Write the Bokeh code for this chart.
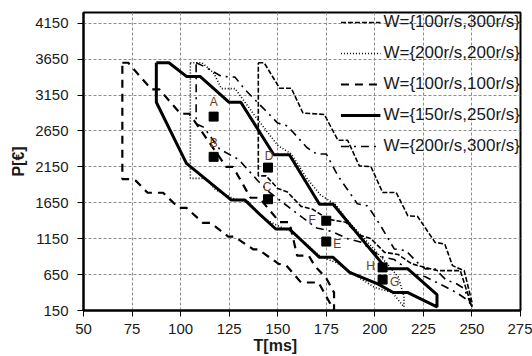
from bokeh.plotting import figure
from bokeh.models import Range1d, Label, FixedTicker
from bokeh.embed import file_html
from bokeh.resources import INLINE

# ---------------- data ----------------
x_ticks = [50, 75, 100, 125, 150, 175, 200, 225, 250, 275]
y_ticks = [150, 650, 1150, 1650, 2150, 2650, 3150, 3650, 4150]

# W={100r/s,300r/s}  (short dashes)
w1_T = [140, 143, 151, 157, 163, 174, 181, 186, 192, 198, 204, 211, 217, 222, 231, 236, 240, 246, 250, 250,
        244, 232, 219, 212, 205, 198, 192, 185, 176, 168, 162, 155, 150, 144, 140, 140]
w1_P = [3600, 3600, 3245, 3245, 2900, 2880, 2520, 2520, 2164, 2154, 1793, 1793, 1469, 1460, 1099, 1076, 775, 706, 265, 200,
        706, 706, 800, 930, 960, 1150, 1200, 1380, 1420, 1560, 1600, 1800, 1850, 2025, 2025, 3600]

# W={200r/s,200r/s}  (dotted)
w2_T = [105, 111, 117, 121, 128, 138, 150, 157, 165, 172, 180, 186, 197, 207, 212, 215, 215,
        209, 200, 190, 180, 172, 158, 150, 143, 135, 127, 118, 113, 105, 105]
w2_P = [3600, 3600, 3460, 3240, 3240, 2870, 2450, 2330, 1990, 1760, 1620, 1400, 1080, 780, 620, 350, 200,
        400, 470, 640, 820, 900, 1240, 1330, 1430, 1660, 1710, 1830, 1990, 1990, 3600]

# W={100r/s,100r/s}  (long dashes)
w3_T = [70, 73, 85, 89, 100, 104.5, 123.5, 127, 136, 140.5, 151, 156, 160, 166, 169, 175, 179, 179,
        171, 162, 154.5, 150.5, 140, 137.5, 127.5, 124.5, 115.5, 111.5, 103, 99, 91, 83, 77, 73.5, 70, 70]
w3_P = [3600, 3600, 3230, 3230, 2890, 2890, 2150, 2150, 1720, 1720, 1380, 1380, 914, 914, 775, 600, 400, 150,
        540, 540, 775, 800, 1000, 1000, 1180, 1180, 1370, 1370, 1580, 1580, 1790, 1790, 1955, 1980, 1980, 3600]

# W={150r/s,250r/s}  (solid)
w4_T = [87.5, 94, 103, 110, 125, 131, 148, 156, 171.5, 178.5, 206, 217, 232, 232,
        217, 209.5, 201.5, 187, 178.5, 171.5, 156, 149, 141.5, 133, 126, 103, 87.5, 87.5]
w4_P = [3600, 3600, 3410, 3410, 3050, 3050, 2320, 2320, 1630, 1630, 730, 730, 370, 200,
        400, 400, 520, 680, 890, 890, 1285, 1285, 1470, 1690, 1690, 2200, 3050, 3600]

# W={200r/s,300r/s}  (dash-dot)
w5_T = [108, 112, 121, 128, 133, 141, 150, 155, 165, 170, 175, 181, 187, 191, 196, 198, 203, 208, 210, 216, 222, 226, 231, 237, 241, 246, 250,
        248, 242, 237, 226, 220, 210, 203, 193, 186, 178, 170, 160, 146, 140, 130, 120, 112, 108, 108]
w5_P = [3600, 3550, 3410, 3400, 3230, 3010, 2760, 2720, 2420, 2330, 2330, 2025, 1793, 1636, 1608, 1539, 1330, 1099, 1007, 983, 817, 729, 729, 567, 539, 456, 200,
        290, 400, 470, 620, 660, 860, 900, 1100, 1150, 1250, 1300, 1500, 1790, 1950, 2250, 2400, 2700, 2750, 3600]

series_names = ["W={100r/s,300r/s}", "W={200r/s,200r/s}", "W={100r/s,100r/s}",
                "W={150r/s,250r/s}", "W={200r/s,300r/s}"]

# operating points
pt_names = ["A", "B", "C", "D", "E", "F", "G", "H"]
pt_T = [117, 117, 145, 145, 175, 175, 204, 204]
pt_P = [2850, 2290, 1700, 2140, 1110, 1400, 580, 750]

x_title = "T[ms]"
y_title = "P[€]"

# ---------------- figure ----------------
p = figure(width=532, height=356, x_range=Range1d(50, 275), y_range=Range1d(150, 4300),
           output_backend="svg", toolbar_location=None,
           min_border_left=83, min_border_right=12, min_border_top=12, min_border_bottom=46)
p.background_fill_color = "white"
p.border_fill_color = "white"
p.outline_line_color = "black"
p.outline_line_width = 2

p.xaxis.ticker = FixedTicker(ticks=x_ticks)
p.yaxis.ticker = FixedTicker(ticks=y_ticks)
for ax in (p.xaxis, p.yaxis):
    ax.axis_line_color = "black"
    ax.axis_line_width = 2
    ax.major_tick_line_color = "black"
    ax.major_tick_line_width = 1
    ax.major_tick_out = 6
    ax.major_tick_in = 0
    ax.minor_tick_line_color = None
    ax.major_label_text_font = "Liberation Sans"
    ax.major_label_text_font_size = "15px"
    ax.major_label_text_color = "#1a1a1a"
    ax.axis_label_text_font = "Liberation Sans"
    ax.axis_label_text_font_size = "16px"
    ax.axis_label_text_font_style = "bold"
    ax.axis_label_text_color = "#1a1a1a"
p.xaxis.major_label_standoff = 7
p.yaxis.major_label_standoff = 9

p.yaxis.axis_label = y_title
p.yaxis.axis_label_standoff = 5
# trailing no-break spaces shift the centred x title to the left, as in the original
p.xaxis.axis_label = x_title + "\u00a0" * 12
p.xaxis.axis_label_standoff = 0

p.xgrid.grid_line_color = "#8c8c8c"
p.ygrid.grid_line_color = "#8c8c8c"
p.xgrid.grid_line_dash = "3 2"
p.ygrid.grid_line_dash = "3 2"
p.xgrid.grid_line_width = 1
p.ygrid.grid_line_width = 1

styles = [
    dict(line_dash="5 2", line_width=1.6),
    dict(line_dash="1 2", line_width=1.6),
    dict(line_dash="8 6", line_width=2.2),
    dict(line_dash="solid", line_width=3),
    dict(line_dash="8 5 2 5", line_width=1.6),
]
data = [(w1_T, w1_P), (w2_T, w2_P), (w3_T, w3_P), (w4_T, w4_P), (w5_T, w5_P)]
for (t, pv), name, st in zip(data, series_names, styles):
    p.line(t, pv, line_color="black", legend_label=name, **st)

p.scatter(pt_T, pt_P, marker="square", size=9, color="black")
offsets = {"A": (0, 15), "B": (0, 14), "C": (-1, 12), "D": (1, 12), "E": (11, -2), "F": (-14, 1), "G": (12, -2), "H": (-12, 1)}
for n, t, pv in zip(pt_names, pt_T, pt_P):
    dx, dy = offsets[n]
    p.add_layout(Label(x=t, y=pv, x_offset=dx, y_offset=dy, text=n, text_font="Liberation Sans",
                       text_font_size="12px", text_color="#6b3a1a", text_align="center",
                       text_baseline="middle"))

lg = p.legend[0]
lg.location = "top_right"
lg.margin = 0
lg.padding = 0
lg.spacing = 11
lg.glyph_width = 40
lg.glyph_height = 16
lg.label_height = 16
lg.label_standoff = 3
lg.label_text_font = "Liberation Sans"
lg.label_text_font_size = "17px"
lg.label_text_color = "#1a1a1a"
lg.background_fill_alpha = 0
lg.border_line_alpha = 0

open("out.html", "w").write(file_html(p, INLINE))
